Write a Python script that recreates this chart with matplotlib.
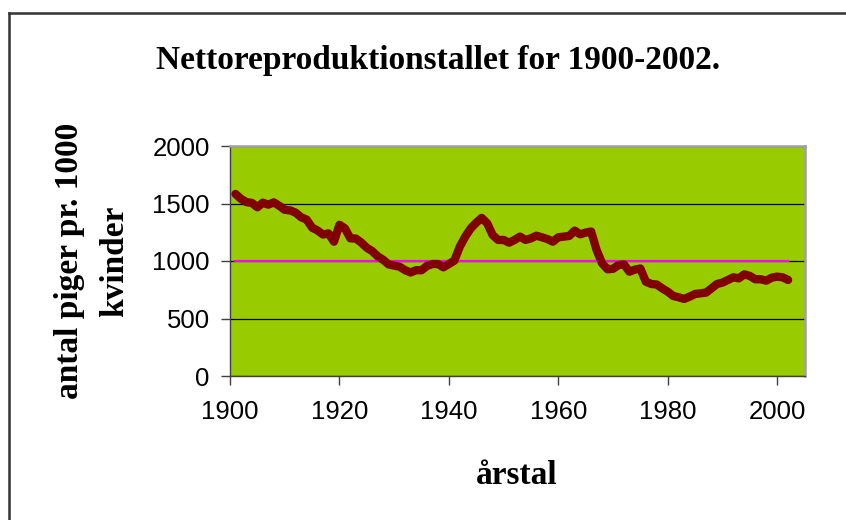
import numpy as np
import matplotlib.pyplot as plt
from matplotlib.lines import Line2D

# Nettoreproduktionstal, Danmark 1901-2002
years = list(range(1901, 2003))
values = [
    1583, 1540, 1512, 1505, 1467, 1507, 1490, 1510, 1480, 1445,  # 1901-1910
    1440, 1420, 1380, 1360, 1290, 1265, 1230, 1240, 1168, 1315,  # 1911-1920
    1284, 1197, 1195, 1160, 1115, 1085, 1040, 1010, 970, 960,    # 1921-1930
    950, 920, 900, 920, 920, 957, 974, 974, 945, 974,            # 1931-1940
    1003, 1125, 1212, 1284, 1333, 1375, 1328, 1226, 1183, 1183,  # 1941-1950
    1159, 1183, 1212, 1183, 1197, 1220, 1206, 1191, 1168, 1206,  # 1951-1960
    1212, 1218, 1264, 1232, 1247, 1256, 1096, 980, 928, 932,     # 1961-1970
    965, 970, 907, 925, 935, 820, 800, 795, 762, 733,            # 1971-1980
    696, 684, 670, 690, 713, 719, 725, 762, 800, 812,            # 1981-1990
    835, 858, 849, 884, 870, 841, 841, 829, 855, 864,            # 1991-2000
    858, 835,                                                    # 2001-2002
]
reference_level = [1000] * len(years)

xticks = [1900, 1920, 1940, 1960, 1980, 2000]
yticks = [0, 500, 1000, 1500, 2000]

serif = ['Liberation Serif', 'DejaVu Serif']
sans = ['Liberation Sans', 'DejaVu Sans']

fig = plt.figure(figsize=(8.46, 5.2), dpi=100)
ax = fig.add_axes([230 / 846, 1 - 376 / 520, 574.5 / 846, 230 / 520])

ax.set_facecolor('#99CC00')
ax.set_axisbelow(True)
ax.yaxis.grid(True, color='black', linewidth=0.9)

ax.plot(years, reference_level, color='#FF00FF', linewidth=1.6, zorder=3)
ax.plot(years, values, color='#800000', linewidth=6, solid_capstyle='round',
        solid_joinstyle='round', zorder=4)

ax.set_xlim(1900, 2005)
ax.set_ylim(0, 2000)
ax.set_xticks(xticks)
ax.set_yticks(yticks)
ax.tick_params(axis='both', direction='out', length=6.5, width=1, colors='#404040',
               labelcolor='black', labelsize=18.5)
ax.tick_params(axis='x', pad=11)
ax.tick_params(axis='y', pad=8)
for lab in ax.get_xticklabels() + ax.get_yticklabels():
    lab.set_family(sans)

for side in ['top', 'right']:
    ax.spines[side].set_color('#a0a0a0')
    ax.spines[side].set_linewidth(1.8)
for side in ['left', 'bottom']:
    ax.spines[side].set_color('#404040')
    ax.spines[side].set_linewidth(1.0)

fig.text(438 / 846, 1 - 60 / 520, 'Nettoreproduktionstallet for 1900-2002.',
         ha='center', va='center', fontsize=24, fontweight='bold', family=serif)
fig.text(517 / 846, 1 - 476 / 520, 'årstal', ha='center', va='center',
         fontsize=24, fontweight='bold', family=serif)
fig.text(70 / 846, 1 - 261 / 520, 'antal piger pr. 1000', ha='center', va='center',
         rotation=90, fontsize=24, fontweight='bold', family=serif)
fig.text(115 / 846, 1 - 261 / 520, 'kvinder', ha='center', va='center',
         rotation=90, fontsize=24, fontweight='bold', family=serif)

# ydre ramme (kun venstre og top er synlige)
fig.add_artist(Line2D([8.5 / 846, 8.5 / 846], [0, 1 - 12.5 / 520],
                      transform=fig.transFigure, color='#333333', linewidth=1.8))
fig.add_artist(Line2D([8.5 / 846, 1], [1 - 12.5 / 520, 1 - 12.5 / 520],
                      transform=fig.transFigure, color='#333333', linewidth=1.8))

fig.savefig('out.png', dpi=100)
